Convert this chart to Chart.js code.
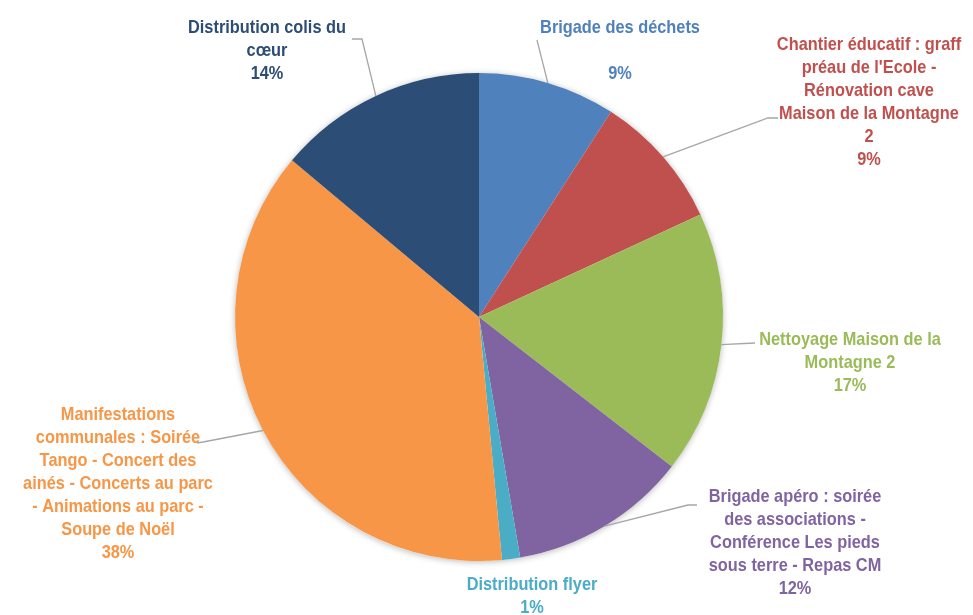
<!DOCTYPE html>
<html>
<head>
<meta charset="utf-8">
<script src="https://cdn.jsdelivr.net/npm/chart.js@4/dist/chart.umd.min.js"></script>
<style>
html,body{margin:0;padding:0;background:#fff;}
#c{display:block;}
</style>
</head>
<body>
<canvas id="c" width="973" height="615"></canvas>
<script>
// ---- data ----
const categories = [
  "Brigade des déchets",
  "Chantier éducatif : graff préau de l'Ecole - Rénovation cave Maison de la Montagne 2",
  "Nettoyage Maison de la Montagne 2",
  "Brigade apéro : soirée des associations - Conférence Les pieds sous terre - Repas CM",
  "Distribution flyer",
  "Manifestations communales : Soirée Tango - Concert des ainés - Concerts au parc - Animations au parc - Soupe de Noël",
  "Distribution colis du cœur"
];
const values = [9.1, 9.0, 17.4, 11.8, 1.2, 37.6, 13.9];
const labelLines = [
  ["Brigade des déchets", ""],
  ["Chantier éducatif : graff", "préau de l'Ecole -", "Rénovation cave", "Maison de la Montagne", "2"],
  ["Nettoyage Maison de la", "Montagne 2"],
  ["Brigade apéro : soirée", "des associations -", "Conférence Les pieds", "sous terre - Repas CM"],
  ["Distribution flyer"],
  ["Manifestations", "communales : Soirée", "Tango - Concert des", "ainés - Concerts au parc", "- Animations au parc -", "Soupe de Noël"],
  ["Distribution colis du", "cœur"]
];
const colors = ["#4F81BD", "#C0504D", "#9BBB59", "#8064A2", "#4BACC6", "#F79646", "#2C4D75"];

// ---- label layout (pixels) ----
const labelLayout = [
  {cx: 620, y: 28, leader: [[537, 40]]},
  {cx: 869, y: 45, leader: [[778, 118], [768, 118]]},
  {cx: 850, y: 340, leader: [[755, 343]]},
  {cx: 795, y: 497, leader: [[697, 505], [688, 505]]},
  {cx: 532, y: 585, leader: null},
  {cx: 118, y: 415, leader: [[197, 443], [203, 442]]},
  {cx: 267, y: 28, leader: [[352, 39], [362, 39]]}
];
const LINE_H = 23;
const FONT = "bold 19px 'Liberation Sans', Arial, sans-serif";
const NARROW = 0.86;

const total = values.reduce((a, b) => a + b, 0);

const shadowPlugin = {
  id: 'shadow',
  beforeDatasetsDraw(chart) {
    const arc = chart.getDatasetMeta(0).data[0];
    if (!arc) return;
    const ctx = chart.ctx;
    ctx.save();
    ctx.shadowColor = 'rgba(0,0,0,0.28)';
    ctx.shadowBlur = 6;
    ctx.shadowOffsetX = 0;
    ctx.shadowOffsetY = 1;
    ctx.fillStyle = '#ffffff';
    ctx.beginPath();
    ctx.arc(arc.x, arc.y, arc.outerRadius, 0, Math.PI * 2);
    ctx.fill();
    ctx.restore();
  }
};

const labelPlugin = {
  id: 'labels',
  afterDatasetsDraw(chart) {
    const ctx = chart.ctx;
    const meta = chart.getDatasetMeta(0);
    ctx.save();
    meta.data.forEach((arc, i) => {
      const L = labelLayout[i];
      if (L.leader) {
        const mid = (arc.startAngle + arc.endAngle) / 2;
        const px = arc.x + Math.cos(mid) * arc.outerRadius;
        const py = arc.y + Math.sin(mid) * arc.outerRadius;
        ctx.strokeStyle = '#A6A6A6';
        ctx.lineWidth = 1.3;
        ctx.beginPath();
        ctx.moveTo(L.leader[0][0], L.leader[0][1]);
        for (let k = 1; k < L.leader.length; k++) ctx.lineTo(L.leader[k][0], L.leader[k][1]);
        ctx.lineTo(px, py);
        ctx.stroke();
      }
      ctx.fillStyle = colors[i];
      ctx.font = FONT;
      ctx.textAlign = 'center';
      ctx.textBaseline = 'middle';
      const lines = labelLines[i].concat([Math.round(values[i] / total * 100) + '%']);
      lines.forEach((t, j) => {
        ctx.save();
        ctx.translate(L.cx, L.y + j * LINE_H);
        ctx.scale(NARROW, 1);
        ctx.fillText(t, 0, 0);
        ctx.restore();
      });
    });
    ctx.restore();
  }
};

new Chart(document.getElementById('c'), {
  type: 'pie',
  data: {
    labels: categories,
    datasets: [{
      data: values,
      backgroundColor: colors,
      borderWidth: 0,
      hoverOffset: 0
    }]
  },
  options: {
    responsive: false,
    animation: false,
    events: [],
    layout: {padding: {top: 73, bottom: 54, left: 0, right: 15}},
    plugins: {
      legend: {display: false},
      tooltip: {enabled: false}
    }
  },
  plugins: [shadowPlugin, labelPlugin]
});
</script>
</body>
</html>
